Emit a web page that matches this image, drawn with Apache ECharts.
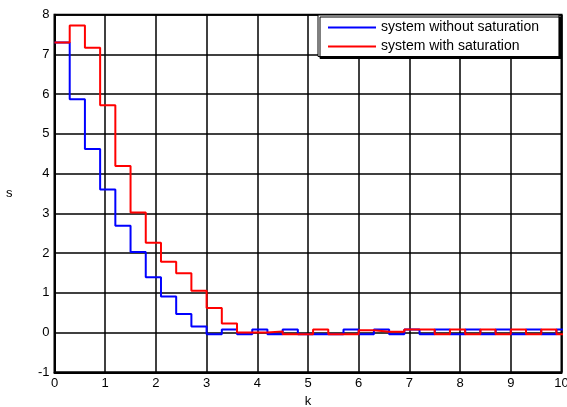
<!DOCTYPE html>
<html>
<head>
<meta charset="utf-8">
<script src="https://cdn.jsdelivr.net/npm/echarts@6/dist/echarts.min.js"></script>
<style>
html, body { margin: 0; padding: 0; background: #fff; }
#chart { width: 567px; height: 407px; }
</style>
</head>
<body>
<div id="chart"></div>
<script>
// sample instants k (stairs, step 0.3) plus closing point past the axis end
var kValues = [0, 0.3, 0.6, 0.9, 1.2, 1.5, 1.8, 2.1, 2.4, 2.7,
               3.0, 3.3, 3.6, 3.9, 4.2, 4.5, 4.8, 5.1, 5.4, 5.7,
               6.0, 6.3, 6.6, 6.9, 7.2, 7.5, 7.8, 8.1, 8.4, 8.7,
               9.0, 9.3, 9.6, 9.9, 10.2];

var sNoSat = [7.3, 5.87, 4.62, 3.60, 2.69, 2.03, 1.39, 0.91, 0.47, 0.15,
              -0.04, 0.08, -0.04, 0.08, -0.04, 0.08, -0.04, -0.04, -0.04, 0.08,
              -0.04, 0.08, -0.04, 0.08, -0.04, 0.08, -0.04, 0.08, -0.04, 0.08,
              -0.04, 0.08, -0.04, 0.08, 0.08];

var sSat = [7.3, 7.73, 7.17, 5.72, 4.19, 3.02, 2.26, 1.78, 1.49, 1.05,
            0.62, 0.23, 0.0, 0.0, 0.03, -0.04, -0.04, 0.08, -0.04, -0.04,
            0.06, 0.02, 0.02, 0.08, 0.08, -0.04, 0.08, -0.04, 0.08, -0.04,
            0.08, -0.04, 0.08, -0.04, -0.04];

var xTicks = [0, 10, 1];   // min, max, step
var yTicks = [-1, 8, 1];

function pairs(ys)
{
    var out = [];
    for(var i = 0; i < kValues.length; i++) out.push([kValues[i], ys[i]]);
    return out;
}

var font = "'Liberation Sans', Arial, sans-serif";
var chart = echarts.init(document.getElementById('chart'));

var option = {
    animation: false,
    backgroundColor: '#fff',
    grid: {
        left: 54.5,
        right: 5.5,
        top: 14.7,
        bottom: 34.7,
        containLabel: false,
        outerBoundsMode: 'none',
        show: true,
        borderColor: '#000',
        borderWidth: 2,
        backgroundColor: 'transparent'
    },
    legend: {
        left: 318,
        top: 15,
        orient: 'vertical',
        icon: 'rect',
        itemWidth: 48,
        itemHeight: 2,
        itemGap: 3,
        padding: [4.5, 20, 2, 10],
        backgroundColor: '#fff',
        borderColor: '#000',
        borderWidth: 1,
        borderRadius: 0,
        shadowColor: '#000',
        shadowOffsetX: 2,
        shadowOffsetY: 2,
        shadowBlur: 0,
        textStyle: { color: '#000', fontSize: 14, fontFamily: font, lineHeight: 16 },
        data: ['system without saturation', 'system with saturation']
    },
    xAxis: {
        type: 'value',
        min: xTicks[0],
        max: xTicks[1],
        interval: xTicks[2],
        name: 'k',
        nameLocation: 'middle',
        nameGap: 20,
        nameTextStyle: { color: '#000', fontSize: 13, fontFamily: font },
        axisLine: { show: true, onZero: false, lineStyle: { color: '#000', width: 2 } },
        axisTick: { show: false },
        axisLabel: { color: '#000', fontSize: 13, fontFamily: font, margin: 5 },
        splitLine: { show: true, lineStyle: { color: '#000', width: 1.5 } }
    },
    yAxis: {
        type: 'value',
        min: yTicks[0],
        max: yTicks[1],
        interval: yTicks[2],
        name: 's',
        nameLocation: 'middle',
        nameRotate: 0,
        nameGap: 42,
        nameTextStyle: { color: '#000', fontSize: 13, fontFamily: font },
        axisLine: { show: true, onZero: false, lineStyle: { color: '#000', width: 2 } },
        axisTick: { show: false },
        axisLabel: { color: '#000', fontSize: 13, fontFamily: font, margin: 5 },
        splitLine: { show: true, lineStyle: { color: '#000', width: 1.5 } }
    },
    series: [
        {
            name: 'system without saturation',
            type: 'line',
            step: 'end',
            symbol: 'none',
            color: '#0000ff',
            lineStyle: { width: 2, color: '#0000ff' },
            data: pairs(sNoSat)
        },
        {
            name: 'system with saturation',
            type: 'line',
            step: 'end',
            symbol: 'none',
            color: '#ff0000',
            lineStyle: { width: 2, color: '#ff0000' },
            data: pairs(sSat)
        }
    ]
};

chart.setOption(option);
</script>
</body>
</html>
